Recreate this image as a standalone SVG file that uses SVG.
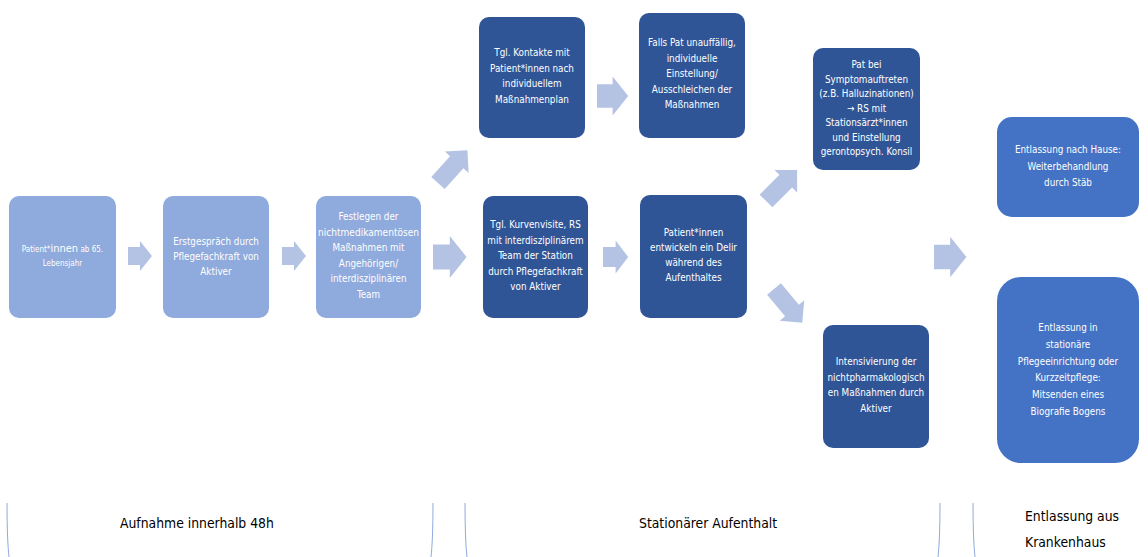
<svg xmlns="http://www.w3.org/2000/svg" width="1148" height="557" viewBox="0 0 1148 557">
<style>
.light{fill:#8faadc}
.dark{fill:#2f5597}
.mid{fill:#4472c4}
.t{font-family:"Liberation Sans Narrow","DejaVu Sans Condensed",sans-serif;font-size:9.8px;fill:#ffffff;text-anchor:middle}
.lab{font-family:"Liberation Sans Narrow","DejaVu Sans Condensed",sans-serif;font-size:13.8px;fill:#000000}
.arr{fill:#b4c3e4}
.br{fill:none;stroke:#8faadc;stroke-width:1}
</style>
<defs>
<polygon id="ah" points="0,-9 12,-9 12,-15 24,0 12,15 12,9 0,9"/>
<polygon id="ad" points="0,-9 28,-9 28,-16 44,0 28,16 28,9 0,9"/>
</defs>
<rect width="1148" height="557" fill="#ffffff"/>
<g id="connectors" class="arr">
<use href="#ah" transform="translate(128,256)"/>
<use href="#ah" transform="translate(282,256)"/>
<use href="#ah" transform="translate(433,257) scale(1.4)"/>
<use href="#ah" transform="translate(597,96) scale(1.3)"/>
<use href="#ah" transform="translate(603,257) scale(1.05,1.1)"/>
<use href="#ah" transform="translate(934,257) scale(1.35)"/>
<use href="#ad" transform="translate(438,183) rotate(-48)"/>
<use href="#ad" transform="translate(766,201) rotate(-45)"/>
<use href="#ad" transform="translate(774,289) rotate(50)"/>
</g>
<g id="n1"><rect class="light" x="9" y="196" width="107" height="122" rx="10"/>
<text class="t" x="62.5" y="252" style="font-size:8px">Patient*<tspan style="font-size:11px">innen</tspan> ab 65.</text>
<text class="t" x="62.5" y="266" style="font-size:8px">Lebensjahr</text></g>
<g id="n2"><rect class="light" x="163" y="196" width="106" height="122" rx="10"/>
<text class="t" x="216" y="245">Erstgespräch durch</text>
<text class="t" x="216" y="260">Pflegefachkraft von</text>
<text class="t" x="216" y="275">Aktiver</text></g>
<g id="n3"><rect class="light" x="316" y="196" width="105" height="122" rx="10"/>
<text class="t" x="368.5" y="220">Festlegen der</text>
<text class="t" x="368.5" y="235.5" textLength="101" lengthAdjust="spacingAndGlyphs">nichtmedikamentösen</text>
<text class="t" x="368.5" y="251">Maßnahmen mit</text>
<text class="t" x="368.5" y="266.5">Angehörigen/</text>
<text class="t" x="368.5" y="282">interdisziplinären</text>
<text class="t" x="368.5" y="297.5">Team</text></g>
<g id="n4"><rect class="dark" x="483" y="196" width="105" height="122" rx="10"/>
<text class="t" x="535.5" y="228">Tgl. Kurvenvisite, RS</text>
<text class="t" x="535.5" y="243.5">mit interdisziplinärem</text>
<text class="t" x="535.5" y="259">Team der Station</text>
<text class="t" x="535.5" y="274.5">durch Pflegefachkraft</text>
<text class="t" x="535.5" y="290">von Aktiver</text></g>
<g id="n5"><rect class="dark" x="479" y="17" width="106" height="121" rx="10"/>
<text class="t" x="532" y="56">Tgl. Kontakte mit</text>
<text class="t" x="532" y="71.5">Patient*innen nach</text>
<text class="t" x="532" y="87">individuellem</text>
<text class="t" x="532" y="102.5">Maßnahmenplan</text></g>
<g id="n6"><rect class="dark" x="639" y="13" width="106" height="125" rx="10"/>
<text class="t" x="692" y="46">Falls Pat unauffällig,</text>
<text class="t" x="692" y="61.5">individuelle</text>
<text class="t" x="692" y="77">Einstellung/</text>
<text class="t" x="692" y="92.5">Ausschleichen der</text>
<text class="t" x="692" y="108">Maßnahmen</text></g>
<g id="n7"><rect class="dark" x="640" y="195" width="107" height="123" rx="10"/>
<text class="t" x="693.5" y="236">Patient*innen</text>
<text class="t" x="693.5" y="251">entwickeln ein Delir</text>
<text class="t" x="693.5" y="266">während des</text>
<text class="t" x="693.5" y="281">Aufenthaltes</text></g>
<g id="n8"><rect class="dark" x="813" y="48" width="107" height="122" rx="10"/>
<text class="t" x="866.5" y="68">Pat bei</text>
<text class="t" x="866.5" y="82.5">Symptomauftreten</text>
<text class="t" x="866.5" y="97">(z.B. Halluzinationen)</text>
<text class="t" x="866.5" y="111.5">→ RS mit</text>
<text class="t" x="866.5" y="126">Stationsärzt*innen</text>
<text class="t" x="866.5" y="140.5">und Einstellung</text>
<text class="t" x="866.5" y="155">gerontopsych. Konsil</text></g>
<g id="n9"><rect class="dark" x="823" y="325" width="106" height="123" rx="10"/>
<text class="t" x="876" y="365">Intensivierung der</text>
<text class="t" x="876" y="380.5">nichtpharmakologisch</text>
<text class="t" x="876" y="396">en Maßnahmen durch</text>
<text class="t" x="876" y="411.5">Aktiver</text></g>
<g id="n10"><rect class="mid" x="997" y="117" width="142" height="100" rx="15"/>
<text class="t" x="1068" y="153">Entlassung nach Hause:</text>
<text class="t" x="1068" y="170">Weiterbehandlung</text>
<text class="t" x="1068" y="186">durch Stäb</text></g>
<g id="n11"><rect class="mid" x="997" y="277" width="142" height="186" rx="24"/>
<text class="t" x="1068" y="331">Entlassung in</text>
<text class="t" x="1068" y="348">stationäre</text>
<text class="t" x="1068" y="365">Pflegeeinrichtung oder</text>
<text class="t" x="1068" y="381">Kurzzeitpflege:</text>
<text class="t" x="1068" y="398">Mitsenden eines</text>
<text class="t" x="1068" y="415">Biografie Bogens</text></g>
<g id="phases">
<path class="br" d="M7,503 Q7,540 9,557"/>
<path class="br" d="M433,503 Q433,540 431,557"/>
<path class="br" d="M465,503 Q465,540 467,557"/>
<path class="br" d="M940,503 Q940,540 938,557"/>
<path class="br" d="M973,503 Q973,540 975,557"/>
<text class="lab" x="120" y="528">Aufnahme innerhalb 48h</text>
<text class="lab" x="639" y="528">Stationärer Aufenthalt</text>
<text class="lab" x="1025" y="521">Entlassung aus</text>
<text class="lab" x="1025" y="547">Krankenhaus</text>
</g>
</svg>
